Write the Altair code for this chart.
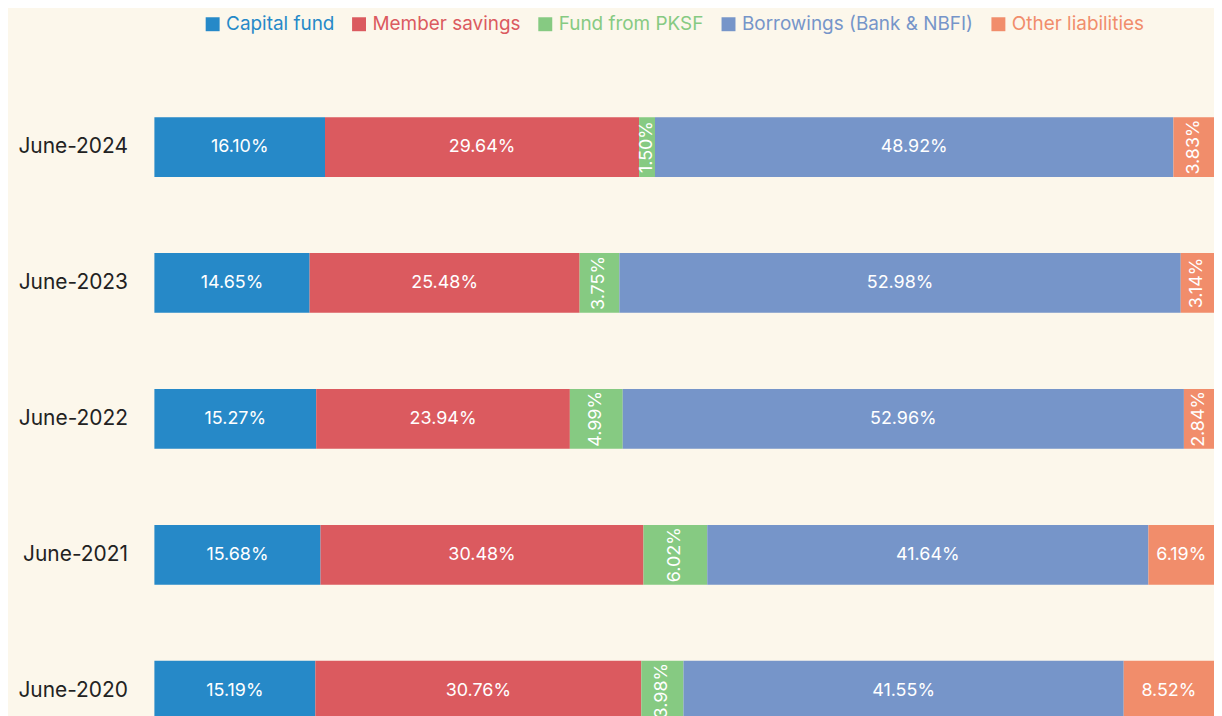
import altair as alt
import pandas as pd

FONT = "Inter"

periods = ["June-2024", "June-2023", "June-2022", "June-2021", "June-2020"]
series = ["Capital fund", "Member savings", "Fund from PKSF",
          "Borrowings (Bank & NBFI)", "Other liabilities"]
capital_fund = [16.10, 14.65, 15.27, 15.68, 15.19]
member_savings = [29.64, 25.48, 23.94, 30.48, 30.76]
fund_pksf = [1.50, 3.75, 4.99, 6.02, 3.98]
borrowings = [48.92, 52.98, 52.96, 41.64, 41.55]
other_liabilities = [3.83, 3.14, 2.84, 6.19, 8.52]
colors = ["#2689C8", "#DB5A5F", "#86CA82", "#7695C9", "#F18D6B"]

values_by_series = [capital_fund, member_savings, fund_pksf, borrowings, other_liabilities]

rows = []
for i, p in enumerate(periods):
    vals = [s[i] for s in values_by_series]
    total = sum(vals)
    cum = 0.0
    for k, (name, v) in enumerate(zip(series, vals)):
        start = cum / total * 100
        cum += v
        end = cum / total * 100
        rows.append({"period": p, "series": name, "value": v, "order": k,
                     "start": start, "end": end, "mid": (start + end) / 2,
                     "label": f"{v:.2f}%"})
df = pd.DataFrame(rows)

y = alt.Y("period:N", sort=periods, title=None,
          scale=alt.Scale(paddingInner=0.56, paddingOuter=0.264, round=False),
          axis=alt.Axis(domain=False, ticks=False, grid=False, labelFontSize=21,
                        labelColor="#222222", labelPadding=27, labelFont=FONT))
xs = alt.Scale(domain=[0, 100], nice=False, zero=True, round=False)

base = alt.Chart(df)

bars = base.mark_bar(size=60).encode(
    y=y,
    x=alt.X("start:Q", scale=xs, axis=None),
    x2="end:Q",
    color=alt.Color("series:N", scale=alt.Scale(domain=series, range=colors),
                    legend=alt.Legend(orient="none", legendX=49, legendY=-67,
                                      direction="horizontal", title=None,
                                      symbolType="square", symbolSize=196,
                                      symbolStrokeWidth=0, symbolOpacity=1,
                                      labelFontSize=19, labelFont=FONT, labelLimit=0,
                                      labelColor=alt.ExprRef(expr="scale('color', datum.value)"),
                                      columnPadding=15, labelOffset=4)),
    order="order:Q",
)

text_h = base.transform_filter("datum.value >= 6.1").mark_text(
    color="white", fontSize=18, font=FONT, align="center", baseline="middle"
).encode(y=y, x=alt.X("mid:Q", scale=xs, axis=None), text="label:N")

text_v = base.transform_filter("datum.value < 6.1").mark_text(
    color="white", fontSize=18, font=FONT, align="center", baseline="middle", angle=270
).encode(y=y, x=alt.X("mid:Q", scale=xs, axis=None), text="label:N")

chart = alt.layer(bars, text_h, text_v).properties(
    width=1064, height=678,
    autosize=alt.AutoSizeParams(type="none"),
    padding={"left": 147, "top": 72, "right": 0, "bottom": 0},
    background="#FCF7EB",
).configure_view(stroke=None)

chart.save("out.html", embed_options={"renderer": "svg", "actions": False})
